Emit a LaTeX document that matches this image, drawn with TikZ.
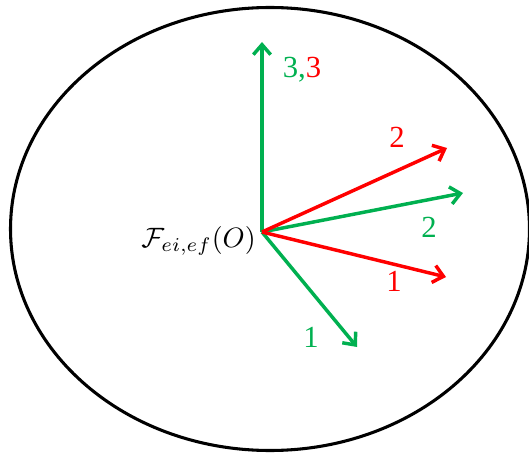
\documentclass[tikz,border=0pt]{standalone}
\usepackage{fontspec}
\setmainfont{Liberation Serif}
\usetikzlibrary{arrows.meta}
\definecolor{vgreen}{RGB}{0,176,80}
\definecolor{vred}{RGB}{255,0,0}
\begin{document}
\begin{tikzpicture}[x=0.75pt,y=-0.75pt,
  vec/.style={line width=2.6pt,-{Straight Barb[length=7.5pt,width=13pt,line width=2.6pt]}},
  lab/.style={font=\fontsize{23}{23}\selectfont,inner sep=0pt}]
\useasboundingbox (0,0) rectangle (529,453);
\draw[line width=2.3pt] (270,229) ellipse [x radius=259.5, y radius=221.5];
\coordinate (o) at (262,232);
\coordinate (g3) at (262,42);
\coordinate (r2) at (447,148);
\coordinate (g2) at (463,193);
\coordinate (r1) at (446,277);
\coordinate (g1) at (357,347);
\draw[vec,vgreen] (o) -- (g3);
\draw[vec,vgreen] (o) -- (g2);
\draw[vec,vgreen] (o) -- (g1);
\draw[vec,vred] (o) -- (r2);
\draw[vec,vred] (o) -- (r1);
\node[lab] (l33) at (302,70) {\textcolor{vgreen}{3,}\textcolor{vred}{3}};
\node[lab,text=vred] (l2r) at (397,137) {2};
\node[lab,text=vgreen] (l2g) at (429,227) {2};
\node[lab,text=vred] (l1r) at (394,281) {1};
\node[lab,text=vgreen] (l1g) at (311,337) {1};
\node[anchor=east,inner sep=0pt] (F) at (256,241) {\scalebox{2.1}{$\mathcal{F}_{ei,ef}(O)$}};
\end{tikzpicture}
\end{document}
